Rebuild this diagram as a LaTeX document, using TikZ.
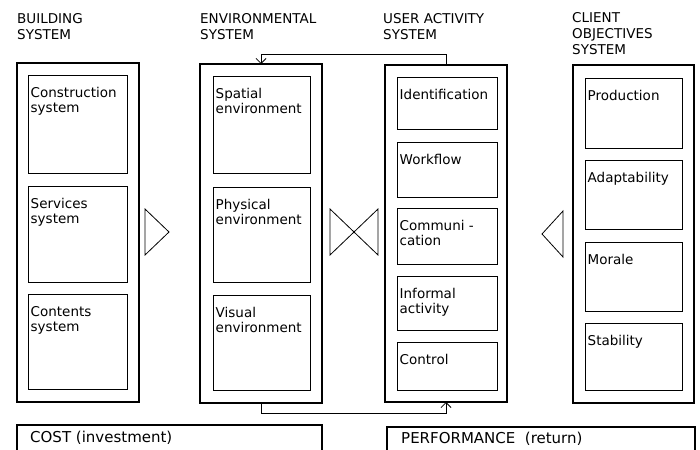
\documentclass[tikz,border=0pt]{standalone}
\usepackage{fontspec}
\setmainfont{DejaVu Sans}
\usetikzlibrary{arrows.meta}
\def\subbox(#1)(#2,#3)(#4,#5)#6{%
  \node[subrect, minimum width={(#4-#2)*1pt}, minimum height={(#5-#3)*1pt}] (#1) at (#2,#3) {};
  \node[subtext] (#1-t) at ([shift={(2.5,12.5)}]#1.north west) {#6};}
\tikzset{
  outer/.style={draw, line width=1.6pt, anchor=north west, inner sep=0, outer sep=0},
  subrect/.style={draw, line width=0.9pt, anchor=north west, inner sep=0, outer sep=0},
  subtext/.style={anchor=north west, inner sep=0, align=left, font=\fontsize{13.5}{15}\selectfont},
  heading/.style={anchor=north west, inner sep=0, align=left, font=\fontsize{13.5}{16}\selectfont},
  account/.style={anchor=north west, inner sep=0, font=\fontsize{15}{18}\selectfont},
  feedback/.style={line width=0.8pt, -{Straight Barb[length=5pt,width=10pt]}},
  wedge/.style={line width=0.8pt, line join=miter}
}

\begin{document}
\begin{tikzpicture}[x=1pt, y=-1pt]
		\useasboundingbox (0,0) rectangle (700,449);
		%%%%% START %%%%%
		
		\node[heading] (h-build) at (17,13) {BUILDING\\SYSTEM};
		\node[heading] (h-env) at (200,13) {ENVIRONMENTAL\\SYSTEM};
		\node[heading] (h-user) at (383,13) {USER ACTIVITY\\SYSTEM};
		\node[heading] (h-client) at (572,12) {CLIENT\\OBJECTIVES\\SYSTEM};
		
		\node[outer, minimum width=122pt, minimum height=339pt] (building) at (17,63) {};
		\node[outer, minimum width=122pt, minimum height=339pt] (environ) at (200,64) {};
		\node[outer, minimum width=122pt, minimum height=337pt] (activity) at (385,65) {};
		\node[outer, minimum width=121pt, minimum height=338pt] (objectives) at (573,65) {};
		
		\subbox(constr)(28,75)(127,173){Construction\\system}
		\subbox(servic)(28,186)(127,282){Services\\system}
		\subbox(conten)(28,294)(127,389){Contents\\system}
		
		\subbox(spatial)(213,76)(310,173){Spatial\\environment}
		\subbox(physic)(213,187)(310,282){Physical\\environment}
		\subbox(visual)(213,295)(310,390){Visual\\environment}
		
		\subbox(ident)(397,77)(497,129){Identification}
		\subbox(workfl)(397,142)(497,197){Workflow}
		\subbox(commun)(397,208)(497,264){Communi -\\cation}
		\subbox(inform)(397,276)(497,330){Informal\\activity}
		\subbox(contrl)(397,342)(497,390){Control}
		
		\subbox(produc)(585,78)(682,148){Production}
		\subbox(adapt)(585,160)(682,229){Adaptability}
		\subbox(morale)(585,242)(682,311){Morale}
		\subbox(stabil)(585,323)(682,390){Stability}
		
		\draw[wedge] (145,209) -- (169,232) -- (145,255) -- cycle;
		\draw[wedge] (330,209) -- (378,255) -- (378,209) -- (330,255) -- cycle;
		\draw[wedge] (563,211) -- (542,234) -- (563,257) -- cycle;
		
		\draw[feedback] (activity.north) -- ++(0,-11) -| (environ.north);
		\draw[feedback] (environ.south) -- ++(0,10) -| (activity.south);
		
		\draw[line width=1.2pt] (17,452) |- (322,425) -- (322,452);
		\node[account] (cost) at (30,431) {COST (investment)};
		\draw[line width=1.2pt] (387,452) |- (695,427) -- (695,452);
		\node[account] (perf) at (401,432) {PERFORMANCE\ \ (return)};
		
		%%%%% END %%%%%
	\end{tikzpicture}
\end{document}
